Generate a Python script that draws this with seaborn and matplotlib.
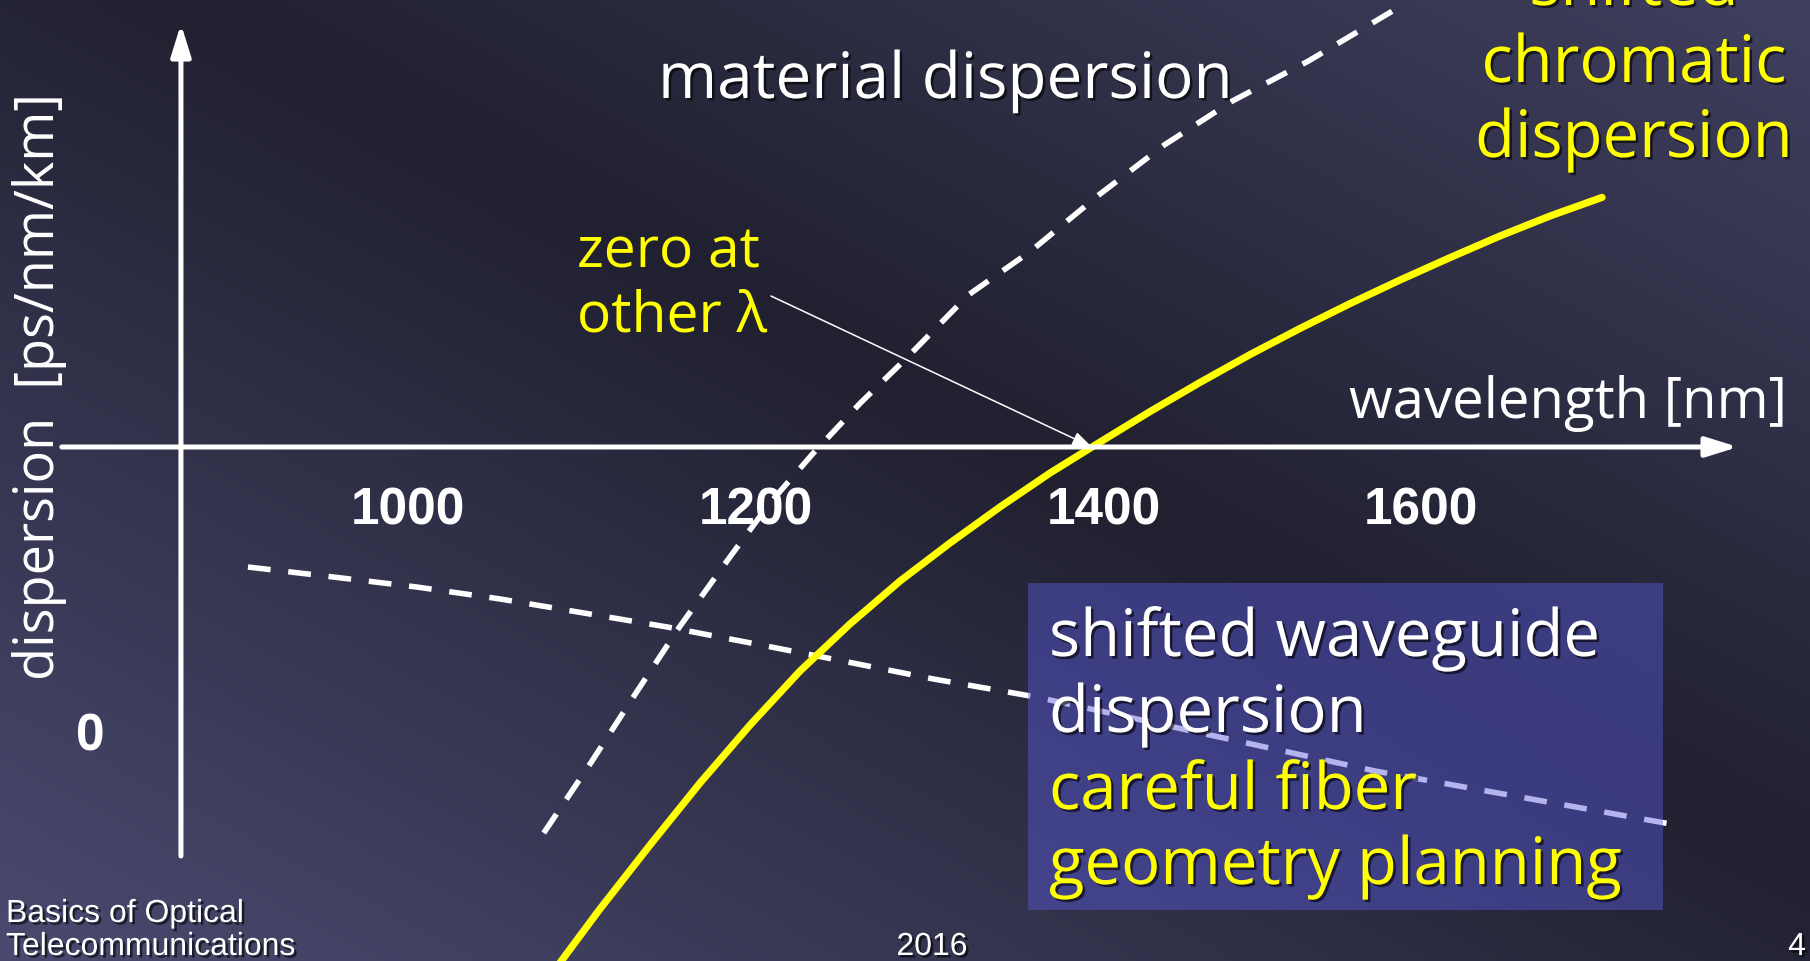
import numpy as np
import matplotlib
matplotlib.use("Agg")
import matplotlib.pyplot as plt
import matplotlib.patheffects as pe
from matplotlib.patches import Rectangle
import seaborn as sns

# ---- data (wavelength in nm, dispersion in ps/nm/km, schematic) ----
wavelength_ticks = [1000, 1200, 1400, 1600]

chromatic_nm = [1084.5, 1088.5, 1110.3, 1139.1, 1167.8, 1196.6, 1225.3, 1254.0, 1282.8,
                1311.5, 1340.2, 1369.0, 1393.1, 1429.0, 1460.6, 1492.1, 1523.7, 1555.2,
                1586.8, 1618.3, 1649.8, 1681.4, 1714.2]
chromatic_D = [-26.1, -25.65, -23.1, -19.9, -16.8, -13.9, -11.2, -8.85, -6.7,
               -4.8, -3.0, -1.3, 0.0, 1.77, 3.23, 4.62, 5.93, 7.17,
               8.35, 9.47, 10.55, 11.55, 12.48]

material_nm = [1078, 1105, 1131, 1156, 1185, 1208, 1233, 1260, 1286, 1322,
               1358, 1397, 1438, 1481, 1529, 1582]
material_D = [-19.3, -15.8, -12.3, -9.0, -5.5, -2.8, -0.3, 2.2, 4.4, 7.6,
              9.8, 12.6, 15.1, 17.3, 19.3, 21.8]

waveguide_nm = [908, 957, 1005, 1053, 1101, 1149, 1197, 1244, 1302, 1361,
                1461, 1571, 1761]
waveguide_D = [-6.0, -6.5, -7.0, -7.6, -8.3, -9.0, -9.8, -10.6, -11.6, -12.5,
               -14.3, -16.2, -18.9]

axis_x_range = (801, 1800)
axis_y_pos = 869.5
axis_y_range = (-20.45, 21.15)
note_start = (1208.6, 7.55)

W, H, DPI = 1810, 962, 100
YELLOW = "#ffff00"
SLIDE_FONT = ["Open Sans", "DejaVu Sans"]
ARIAL = ["Liberation Sans", "DejaVu Sans"]

sns.set_theme(style="white")
plt.rcParams["font.family"] = SLIDE_FONT

fig = plt.figure(figsize=(W / DPI, H / DPI), dpi=DPI)
fig.patch.set_facecolor("#202030")

# background: diagonal three-stop gradient
bg = fig.add_axes([0, 0, 1, 1], zorder=0)
u = np.linspace(0, 1, 400)[None, :]
v = np.linspace(1, 0, 220)[:, None]
t = (u + v) / 2
stops_t = [0.0, 0.55, 1.0]
stops_c = np.array([[74, 74, 112], [32, 32, 48], [64, 64, 96]]) / 255
img = np.stack([np.interp(t, stops_t, stops_c[:, k]) for k in range(3)], axis=-1)
bg.imshow(img, aspect="auto", extent=[0, 1, 0, 1], interpolation="bilinear")
bg.set_axis_off()

ax = fig.add_axes([0, 0, 1, 1], zorder=1)
ax.set_facecolor("none")


# wavelength axis is drawn with the 1600 tick set closer than the others
def fwd(x):
    x = np.asarray(x, float)
    return np.where(x <= 1400, x - 1000, 400 + (x - 1400) * 0.911)


def inv(y):
    y = np.asarray(y, float)
    return np.where(y <= 400, y + 1000, 1400 + (y - 400) / 0.911)


ax.set_xscale("function", functions=(fwd, inv))
ax.set_xlim(765.5, 1845.4)
ax.set_ylim(-25.7, 22.4)

# curves
dash = (0, (4.1, 3.2))
sns.lineplot(x=waveguide_nm, y=waveguide_D, ax=ax, color="white", lw=4.0,
             linestyle=dash, sort=False, estimator=None, zorder=2)
sns.lineplot(x=material_nm, y=material_D, ax=ax, color="white", lw=4.0,
             linestyle=dash, sort=False, estimator=None, zorder=2)
sns.lineplot(x=chromatic_nm, y=chromatic_D, ax=ax, color=YELLOW, lw=5.2,
             sort=False, estimator=None, zorder=3)
ax.lines[-1].set_solid_joinstyle("round")

# axes as arrows
arrow_kw = dict(arrowstyle="-|>,head_length=1.6,head_width=0.5",
                lw=3.6, color="white", shrinkA=0, shrinkB=0)
ax.annotate("", xy=(axis_x_range[1], 0), xytext=(axis_x_range[0], 0),
            arrowprops=arrow_kw, zorder=4)
ax.annotate("", xy=(axis_y_pos, axis_y_range[1]), xytext=(axis_y_pos, axis_y_range[0]),
            arrowprops=arrow_kw, zorder=4)

for s in ax.spines.values():
    s.set_visible(False)
ax.spines["bottom"].set_position(("data", 0))
ax.set_xticks(wavelength_ticks)
ax.set_xticklabels([str(w) for w in wavelength_ticks])
ax.set_yticks([])
ax.tick_params(axis="x", direction="inout", length=21.6, width=1.1,
               color="white", labelcolor="white", labelsize=37, pad=17)
for lab in ax.get_xticklabels():
    lab.set_fontweight("bold")
    lab.set_family(ARIAL)
ax.set_xlabel("")
ax.set_ylabel("")
ax.grid(False)

shadow = [pe.withSimplePatchShadow(offset=(1.8, -1.8), shadow_rgbFace="black", alpha=0.6)]


def P(px, py):
    return px / W, 1 - py / H


def txt(px, py, s, **kw):
    kw.setdefault("transform", ax.transAxes)
    kw.setdefault("path_effects", shadow)
    return ax.text(*P(px, py), s, **kw)


BIG = 47

# zero-crossing annotation
zero_nm = chromatic_nm[chromatic_D.index(0.0)]
ax.annotate("", xy=(zero_nm, 0), xytext=note_start,
            arrowprops=dict(arrowstyle="-|>,head_length=1.0,head_width=0.35",
                            lw=1.1, color="white", shrinkA=0, shrinkB=0),
            zorder=5)

# explanatory box
box = Rectangle(P(1028, 911), 635 / W, 327 / H, transform=ax.transAxes,
                facecolor=(90 / 255, 90 / 255, 220 / 255), alpha=0.45,
                edgecolor="none", zorder=3)
ax.add_patch(box)

txt(658, 99, "material dispersion", color="white", fontsize=46,
    ha="left", va="baseline", zorder=6)
for line, yb in [("shifted", 6), ("chromatic", 83), ("dispersion", 158)]:
    txt(1634, yb, line, color=YELLOW, fontsize=BIG,
        ha="center", va="baseline", zorder=6)
txt(577, 268, "zero at", color=YELLOW, fontsize=41,
    ha="left", va="baseline", zorder=6, path_effects=[])
txt(577, 332, "other λ", color=YELLOW, fontsize=41,
    ha="left", va="baseline", zorder=6, path_effects=[])
txt(1787, 418, "wavelength [nm]", color="white", fontsize=40.5,
    ha="right", va="baseline", zorder=6, path_effects=[])
txt(40, 387, "dispersion  [ps/nm/km]", color="white", fontsize=39,
    rotation=90, ha="center", va="center", zorder=6, path_effects=[])
txt(90, 737, "0", color="white", fontsize=37, fontweight="bold",
    family=ARIAL, ha="center", va="center", zorder=6, path_effects=[])

for line, yb, col in [("shifted waveguide", 657, "white"), ("dispersion", 733, "white"),
                      ("careful fiber", 810, YELLOW), ("geometry planning", 885, YELLOW)]:
    txt(1049, yb, line, color=col, fontsize=BIG,
        ha="left", va="baseline", zorder=6)

# footer
foot = dict(color="white", fontsize=23, family=ARIAL, va="baseline", zorder=6)
txt(6, 923, "Basics of Optical", ha="left", **foot)
txt(6, 956, "Telecommunications", ha="left", **foot)
txt(932, 956, "2016", ha="center", **foot)
txt(1806, 956, "4", ha="right", **foot)

fig.savefig("out.png", dpi=DPI, facecolor=fig.get_facecolor())
